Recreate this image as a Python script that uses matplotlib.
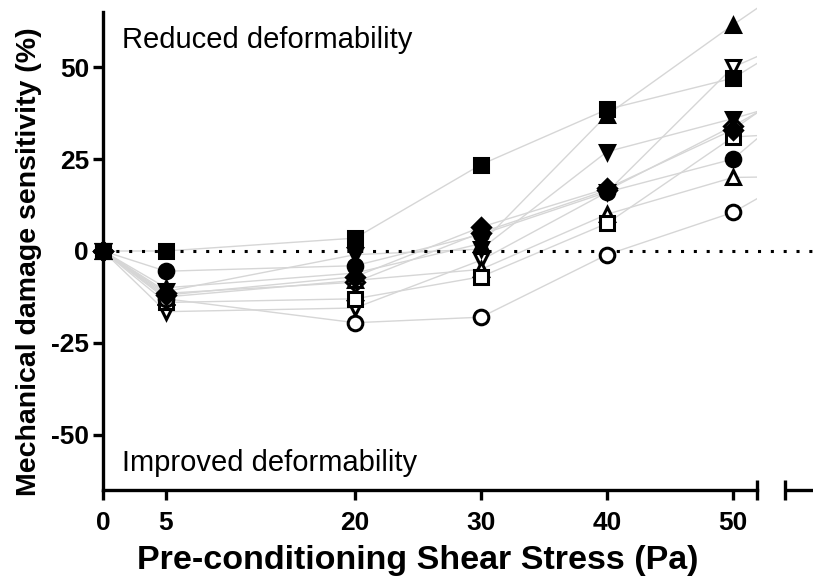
import matplotlib
matplotlib.use("Agg")
import matplotlib.pyplot as plt
from matplotlib.patches import Rectangle

plt.rcParams['font.family'] = ['Liberation Sans', 'DejaVu Sans']
plt.rcParams['axes.unicode_minus'] = False

# shear stress (Pa); last column is the point past the axis break
shear = [0, 5, 20, 30, 40, 50, 60]

# mechanical damage sensitivity (%) per donor
filled_circle = [0, -5.5, -4, 4.5, 16, 25, 54]
filled_square = [0, 0, 3.5, 23.5, 38.5, 47, 68]
filled_tri_up = [0, -10, -6, 2, 37, 61.5, 85]
filled_tri_down = [0, -11, -1, 0.5, 27, 36, 46]
filled_diamond = [0, -12, -7, 6.5, 17, 33, 57]
open_circle = [0, -13, -19.5, -18, -1, 10.5, 30]
open_square = [0, -14, -13, -7, 7.5, 31, 33]
open_tri_up = [0, -12.5, -8, -5, 10, 20, 20.5]
open_tri_down = [0, -16.5, -15.5, -2.5, 16, 50, 65]
open_diamond = [0, -11.5, -8.5, 5, 16.5, 34, 53]

series = [
    (filled_circle, 'o', True),
    (filled_square, 's', True),
    (filled_tri_up, '^', True),
    (filled_tri_down, 'v', True),
    (filled_diamond, 'D', True),
    (open_circle, 'o', False),
    (open_square, 's', False),
    (open_tri_up, '^', False),
    (open_tri_down, 'v', False),
    (open_diamond, 'D', False),
]

xticks = [0, 5, 20, 30, 40, 50]
break_lo, break_hi = 51.9, 54.1

fig = plt.figure(figsize=(8.13, 5.79), dpi=100)
ax = fig.add_axes([0.1267, 0.1537, 0.8733, 0.8256])
ax.set_xlim(0, 56.35)
ax.set_ylim(-65, 65)

clip = Rectangle((-5, -80), 5 + break_lo, 160, transform=ax.transData)
for vals, m, filled in series:
    ln, = ax.plot(shear, vals, color='#d6d6d6', lw=1.0, zorder=1)
    ln.set_clip_path(clip)

ax.axhline(0, color='black', lw=2.2, ls=(0, (1, 3.2)), zorder=2)

for vals, m, filled in reversed(series):
    ms = 9 if m == 'D' else 10.5
    ax.plot(shear[:6], vals[:6], ls='none', marker=m, ms=ms,
            mfc='black' if filled else 'white', mec='black', mew=2.2,
            zorder=3, clip_on=False)
# first point is a filled square on top of all others
ax.plot(shear[0], filled_square[0], ls='none', marker='s', ms=10.5,
        mfc='black', mec='black', zorder=4, clip_on=False)

ax.text(1.5, 57.3, 'Reduced deformability', fontsize=21, va='center', ha='left')
ax.text(1.5, -57.6, 'Improved deformability', fontsize=21, va='center', ha='left')

for s in ['top', 'right']:
    ax.spines[s].set_visible(False)
for s in ['left', 'bottom']:
    ax.spines[s].set_linewidth(2.4)
ax.spines['bottom'].set_bounds(0, break_lo)
trans = ax.get_xaxis_transform()
ax.plot([break_hi, 56.35], [0, 0], color='black', lw=2.4, transform=trans,
        clip_on=False, solid_capstyle='butt')
for bx in [break_lo, break_hi]:
    ax.plot([bx, bx], [-0.02, 0.02], color='black', lw=2.4, transform=trans,
            clip_on=False, solid_capstyle='butt')

ax.set_xticks(xticks)
ax.set_yticks([-50, -25, 0, 25, 50])
ax.tick_params(width=2.4, length=7, labelsize=19)
ax.tick_params(axis='x', pad=8)
ax.tick_params(axis='y', pad=3)
for lab in ax.get_xticklabels() + ax.get_yticklabels():
    lab.set_fontweight('bold')

ax.set_xlabel('Pre-conditioning Shear Stress (Pa)', fontsize=24.5, fontweight='bold')
ax.set_ylabel('Mechanical damage sensitivity (%)', fontsize=20.5, fontweight='bold')
ax.xaxis.set_label_coords(0.444, -0.115)
ax.yaxis.set_label_coords(-0.086, 0.477)

fig.savefig('out.png', dpi=100)
